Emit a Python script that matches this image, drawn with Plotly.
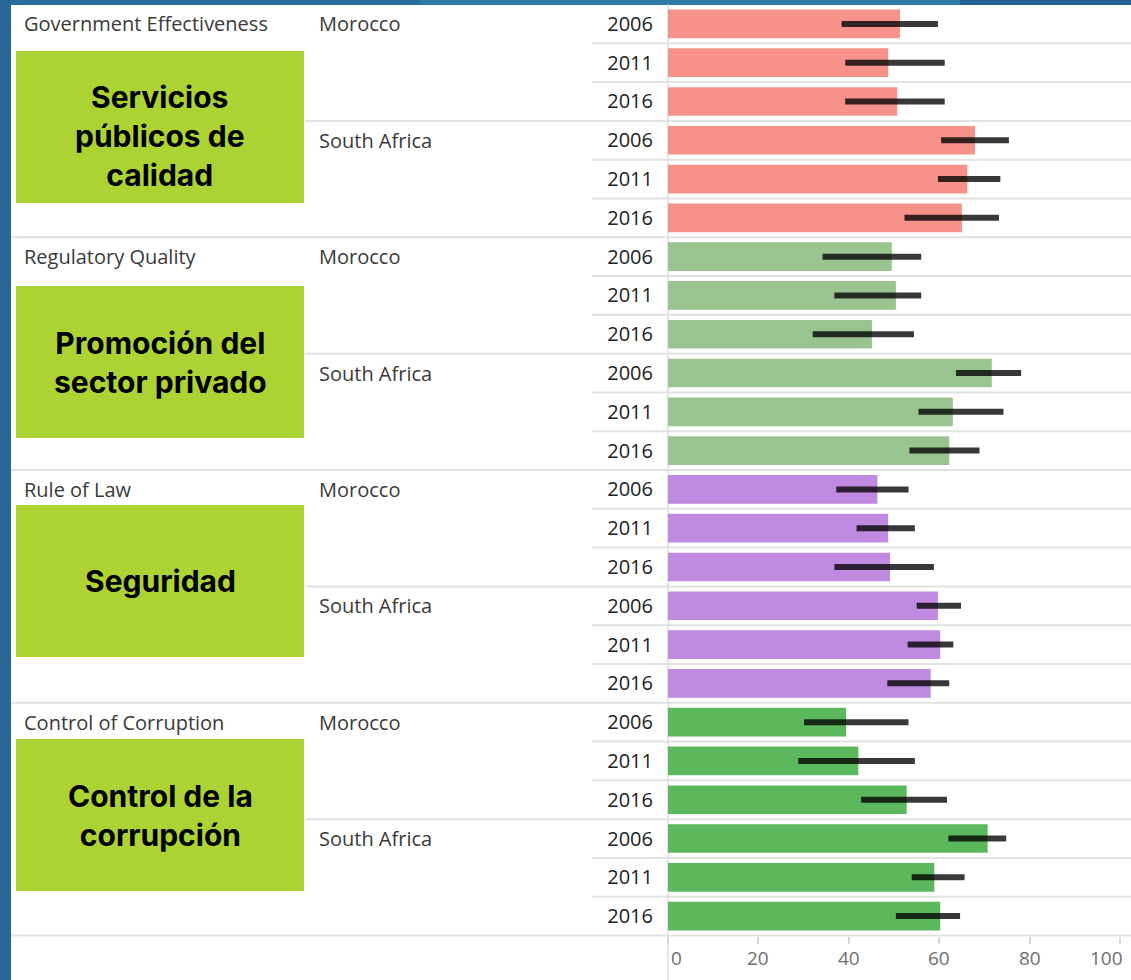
import plotly.graph_objects as go

# ---------------- data ----------------
indicators = ["Government Effectiveness", "Regulatory Quality", "Rule of Law", "Control of Corruption"]
countries = ["Morocco", "South Africa"]
years = ["2006", "2011", "2016"]
box_labels = ["Servicios<br>públicos de<br>calidad", "Promoción del<br>sector privado",
              "Seguridad", "Control de la<br>corrupción"]
colors = ["#f6928a", "#99c48f", "#bf8ae0", "#5cb85c"]

# order: Morocco 2006, 2011, 2016, South Africa 2006, 2011, 2016
ge_val = [51.3, 48.7, 50.7, 67.9, 66.2, 65.0]
ge_lo = [38.4, 39.2, 39.2, 60.4, 59.7, 52.3]
ge_hi = [59.7, 61.2, 61.2, 75.4, 73.5, 73.2]

rq_val = [49.5, 50.4, 45.1, 71.6, 63.0, 62.2]
rq_lo = [34.2, 36.8, 32.0, 63.7, 55.4, 53.4]
rq_hi = [56.0, 56.0, 54.4, 78.1, 74.2, 68.9]

rl_val = [46.3, 48.7, 49.1, 59.7, 60.2, 58.1]
rl_lo = [37.2, 41.7, 36.8, 55.0, 53.0, 48.5]
rl_hi = [53.2, 54.6, 58.8, 64.8, 63.1, 62.2]

cc_val = [39.4, 42.1, 52.8, 70.7, 58.9, 60.2]
cc_lo = [30.1, 28.8, 42.7, 62.0, 53.9, 50.4]
cc_hi = [53.2, 54.6, 61.7, 74.8, 65.6, 64.6]

x_ticks = [0, 20, 40, 60, 80, 100]

series = [(ge_val, ge_lo, ge_hi), (rq_val, rq_lo, rq_hi), (rl_val, rl_lo, rl_hi), (cc_val, cc_lo, cc_hi)]

# ---------------- layout helpers ----------------
W, H = 1131, 980
def px(x):
    return x / W
def py(y):
    return 1 - y / H

plot_left, plot_top, plot_bottom = 668, 4.5, 935.5
label_font = "Open Sans, Noto Sans, sans-serif"

ids = [f"{i}|{c}|{y}" for i in range(len(indicators)) for c in countries for y in years]
ticktext = [y for _ in indicators for _ in countries for y in years]

fig = go.Figure()
for k, (vals, lo, hi) in enumerate(series):
    yk = ids[k * 6:(k + 1) * 6]
    fig.add_trace(go.Bar(
        x=vals, y=yk, orientation="h",
        marker=dict(color=colors[k], line=dict(width=0)),
        error_x=dict(type="data", symmetric=False,
                     array=[h - v for h, v in zip(hi, vals)],
                     arrayminus=[v - l for v, l in zip(vals, lo)],
                     color="rgba(0,0,0,0.78)", thickness=6, width=0),
        showlegend=False, hoverinfo="x+y",
    ))

shapes = []
# white panel and blue frame
shapes.append(dict(type="rect", xref="paper", yref="paper", x0=px(11), x1=1, y0=0, y1=py(5),
                   fillcolor="white", line=dict(width=0), layer="below"))
for x0, x1, c in [(11, 420, "#2b6d9d"), (420, 960, "#2c7ca6"), (960, W, "#235f91")]:
    shapes.append(dict(type="rect", xref="paper", yref="paper", x0=px(x0), x1=px(x1), y0=py(5), y1=1,
                       fillcolor=c, line=dict(width=0), layer="below"))

# row separators
n_rows = len(ids)
y_top, y_bot = py(plot_top), py(plot_bottom)
row_h = (y_top - y_bot) / n_rows
for k in range(1, n_rows + 1):
    if k % 6 == 0:
        xs = px(11)
    elif k % 3 == 0:
        xs = px(305)
    else:
        xs = px(592)
    yy = y_top - k * row_h
    shapes.append(dict(type="line", xref="paper", yref="paper", x0=xs, x1=1, y0=yy, y1=yy,
                       line=dict(color="#e2e2e2", width=2), layer="below"))
# vertical axis line
shapes.append(dict(type="line", xref="paper", yref="paper", x0=px(plot_left), x1=px(plot_left),
                   y0=0, y1=y_top, line=dict(color="#dcdcdc", width=1.5), layer="below"))

annotations = []
for i, name in enumerate(indicators):
    annotations.append(dict(text=name, xref="paper", yref="y", x=px(22), y=ids[i * 6],
                            xanchor="left", yanchor="middle", showarrow=False,
                            font=dict(family=label_font, size=20, color="#3a3a3a")))
    for j, c in enumerate(countries):
        annotations.append(dict(text=c, xref="paper", yref="y", x=px(317), y=ids[i * 6 + j * 3],
                                xanchor="left", yanchor="middle", showarrow=False,
                                font=dict(family=label_font, size=20, color="#3a3a3a")))

# green overlay boxes (top, bottom in px) and text centres
box_spans = [(51, 203), (286, 438), (505, 657), (739, 891)]
text_centers = [136, 362, 581, 815]
for lab, (b0, b1), tc in zip(box_labels, box_spans, text_centers):
    shapes.append(dict(type="rect", xref="paper", yref="paper", x0=px(16), x1=px(304),
                       y0=py(b1), y1=py(b0), fillcolor="#acd333", line=dict(width=0), layer="above"))
    annotations.append(dict(text=f"<b>{lab}</b>", xref="paper", yref="paper", x=px(160), y=py(tc),
                            xanchor="center", yanchor="middle", showarrow=False, align="center",
                            font=dict(family="Inter, Lato, sans-serif", size=30, color="black")))

# x tick labels
for t in x_ticks:
    anchor = "left" if t == x_ticks[0] else ("right" if t == x_ticks[-1] else "center")
    shift = 1 if t == x_ticks[0] else (5 if t == x_ticks[-1] else 0)
    annotations.append(dict(text=str(t), xref="x", yref="paper", x=t, y=py(958), xanchor=anchor,
                            xshift=shift, yanchor="middle", showarrow=False,
                            font=dict(family=label_font, size=19, color="#6e6e6e")))

fig.update_layout(
    width=W, height=H, margin=dict(l=0, r=0, t=0, b=0),
    paper_bgcolor="#29679a", plot_bgcolor="white",
    bargap=0.26,
    shapes=shapes, annotations=annotations,
    xaxis=dict(domain=[px(plot_left), 1], range=[0, 102.4], tickvals=x_ticks, showticklabels=False,
               ticks="outside", ticklen=7, tickcolor="#d6d6d6", tickwidth=1.5,
               showgrid=False, zeroline=False, showline=False, fixedrange=True),
    yaxis=dict(domain=[y_bot, y_top], type="category", categoryorder="array", categoryarray=ids,
               range=[n_rows - 0.5, -0.5], tickvals=ids, ticktext=ticktext, ticks="",
               ticklabelstandoff=14,
               tickfont=dict(family=label_font, size=20, color="#222222"),
               showgrid=False, zeroline=False, showline=False, fixedrange=True),
)

fig.write_html("out.html", config={"displayModeBar": False},
               post_script="document.body.style.margin='0';document.body.style.overflow='hidden';")
